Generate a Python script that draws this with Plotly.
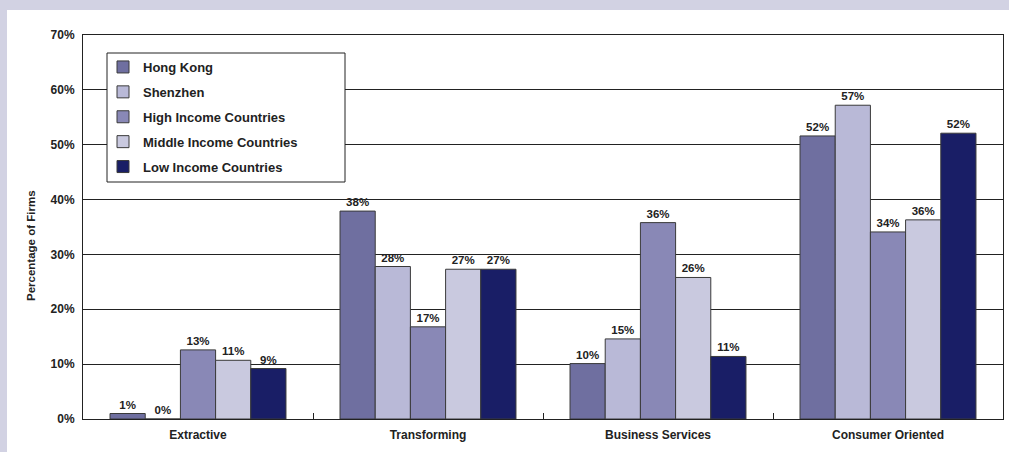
import plotly.graph_objects as go

# Sector categories and share of firms (%) per region group
categories = ["Extractive", "Transforming", "Business Services", "Consumer Oriented"]
series_names = ["Hong Kong", "Shenzhen", "High Income Countries",
                "Middle Income Countries", "Low Income Countries"]
hong_kong = [1.0, 37.9, 10.1, 51.6]
shenzhen = [0.0, 27.8, 14.6, 57.2]
high_income = [12.6, 16.8, 35.8, 34.1]
middle_income = [10.7, 27.3, 25.8, 36.3]
low_income = [9.2, 27.3, 11.4, 52.1]
y_ticks = [0, 10, 20, 30, 40, 50, 60, 70]

series_values = [hong_kong, shenzhen, high_income, middle_income, low_income]
series_colors = ["#6f6fa0", "#b9b9d7", "#8988b6", "#c9c9df", "#191e66"]

FONT = "Liberation Sans"
INK = "#222222"

fig = go.Figure()
for i, (name, vals, col) in enumerate(zip(series_names, series_values, series_colors)):
    fig.add_trace(go.Bar(
        name=name,
        x=categories,
        y=vals,
        marker=dict(color=col, line=dict(color="#3a3a3a", width=1)),
        texttemplate="%{y:.0f}%",
        textposition="outside",
        textfont=dict(family=FONT, size=11.5, color=INK, weight="bold"),
        cliponaxis=False,
        legendgroup=f"g{i}",
    ))

# Plot area geometry (pixels) for paper-coordinate helpers
W, H = 1009, 452
L, R, T, B = 83, 6, 35, 33
pw, ph = W - L - R, H - T - B


def px_x(x):
    return (x - L) / pw


def px_y(y):
    return (H - B - y) / ph


fig.update_layout(
    width=W, height=H,
    margin=dict(l=L, r=R, t=T, b=B, pad=0),
    paper_bgcolor="#d2d2e3",
    plot_bgcolor="white",
    barmode="group",
    bargap=0.235,
    bargroupgap=0,
    showlegend=True,
    legend=dict(
        x=px_x(103), y=px_y(52), xanchor="left", yanchor="top",
        bgcolor="rgba(0,0,0,0)", borderwidth=0,
        font=dict(family=FONT, size=13, color=INK, weight="bold"),
        traceorder="grouped", tracegroupgap=5,
        itemclick=False,
    ),
    font=dict(family=FONT, color=INK),
    shapes=[
        # white card over the lavender page background
        dict(type="rect", xref="paper", yref="paper", layer="below",
             x0=px_x(7), x1=px_x(W + 5), y0=px_y(H + 5), y1=px_y(10),
             fillcolor="white", line=dict(width=0)),
        # legend box
        dict(type="rect", xref="paper", yref="paper", layer="above",
             x0=px_x(107), x1=px_x(345), y0=px_y(182), y1=px_y(53),
             fillcolor="white", line=dict(color=INK, width=1)),
    ],
    annotations=[
        dict(text="Percentage of Firms", xref="paper", yref="paper",
             x=px_x(31), y=px_y(246), xanchor="center", yanchor="middle",
             textangle=-90, showarrow=False,
             font=dict(family=FONT, size=11.5, color=INK, weight="bold")),
    ],
)

fig.update_xaxes(
    type="category",
    showline=True, linecolor=INK, linewidth=1, mirror=True,
    ticks="inside", tickson="boundaries", ticklen=6, tickcolor=INK,
    tickfont=dict(family=FONT, size=12, color=INK, weight="bold"),
    ticklabelstandoff=5,
    showgrid=False,
)
fig.update_yaxes(
    range=[0, 70],
    tickvals=y_ticks,
    ticktext=[f"{v}%" for v in y_ticks],
    tickfont=dict(family=FONT, size=12, color=INK, weight="bold"),
    showline=True, linecolor=INK, linewidth=1, mirror=True,
    showgrid=True, gridcolor=INK, gridwidth=1,
    zeroline=False,
    ticks="",
    ticklabelstandoff=5,
)

fig.write_html("out.html")
